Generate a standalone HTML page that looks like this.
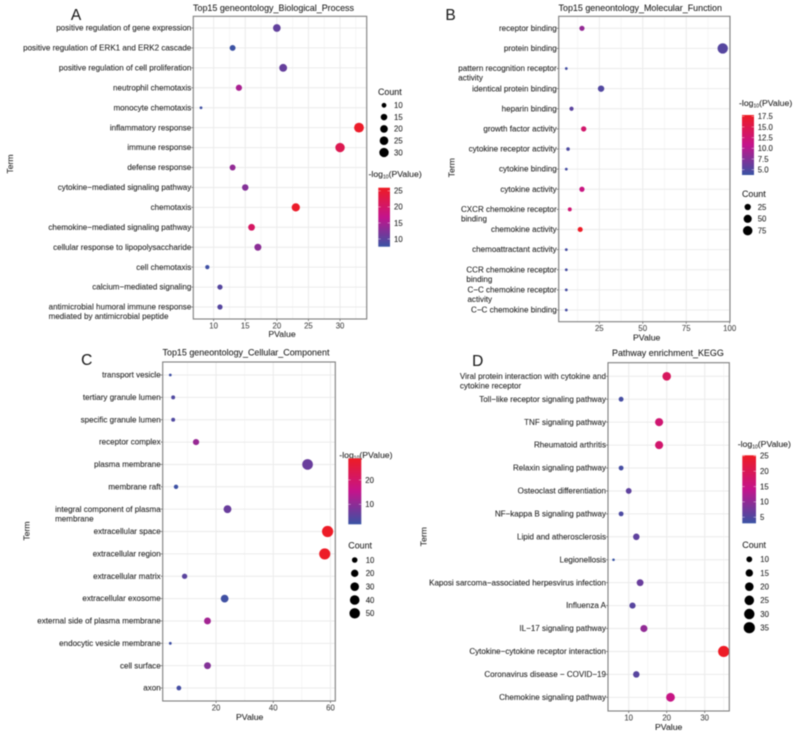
<!DOCTYPE html>
<html>
<head>
<meta charset="utf-8">
<title>Enrichment dot plots</title>
<style>
html,body{margin:0;padding:0;background:#fff;}
#figure{display:block;filter:blur(0.4px);}
text{font-family:"Liberation Sans",Arial,sans-serif;fill:#1f1f1f;stroke:#1f1f1f;stroke-width:0.08px;}
</style>
</head>
<body>
<svg id="figure" width="800" height="737" viewBox="0 0 800 737" xmlns="http://www.w3.org/2000/svg">
<defs id="defs"></defs>
</svg>
<script>
// ---------- Panel A data ----------
const termsA = ["positive regulation of gene expression","positive regulation of ERK1 and ERK2 cascade","positive regulation of cell proliferation","neutrophil chemotaxis","monocyte chemotaxis","inflammatory response","immune response","defense response","cytokine\u2212mediated signaling pathway","chemotaxis","chemokine\u2212mediated signaling pathway","cellular response to lipopolysaccharide","cell chemotaxis","calcium\u2212mediated signaling","antimicrobial humoral immune response\nmediated by antimicrobial peptide"];
const countsA = [20,13,21,14,8,33,30,13,15,23,16,17,9,11,11];
const colorA = [10.3,7.8,10.5,15,8,25.5,22,13.5,12.5,25.5,20.5,13,8,9.5,9.5];
const xTicksA = [10,15,20,25,30];
const xMinorA = [12.5,17.5,22.5,27.5,32.5];
const sizeTicksA = [10,15,20,25,30];
const colorTicksA = [10,15,20,25];

// ---------- Panel B data ----------
const termsB = ["receptor binding","protein binding","pattern recognition receptor\nactivity","identical protein binding","heparin binding","growth factor activity","cytokine receptor activity","cytokine binding","cytokine activity","CXCR chemokine receptor\nbinding","chemokine activity","chemoattractant activity","CCR chemokine receptor\nbinding","C\u2212C chemokine receptor\nactivity","C\u2212C chemokine binding"];
const countsB = [15,96,6,26,9,16,7,6,15,8,14,6,6,6,6];
const colorB = [8.3,5.2,4.3,5,5.5,13,4.8,4.4,11.5,12.5,17.6,4.4,4.4,4.4,4.4];
const xTicksB = [25,50,75,100];
const xMinorB = [12.5,37.5,62.5,87.5];
const sizeTicksB = [25,50,75];
const colorTicksB = [5,7.5,10,12.5,15,17.5];

// ---------- Panel C data ----------
const termsC = ["transport vesicle","tertiary granule lumen","specific granule lumen","receptor complex","plasma membrane","membrane raft","integral component of plasma\nmembrane","extracellular space","extracellular region","extracellular matrix","extracellular exosome","external side of plasma membrane","endocytic vesicle membrane","cell surface","axon"];
const countsC = [4,5,5,13,52,6,24,59,58,9,23,17,4,17,7];
const colorC = [2.5,4,4,11,6.5,2.2,6.5,28.5,28.5,5,2.5,12,2.5,9,3];
const xTicksC = [20,40,60];
const xMinorC = [10,30,50];
const sizeTicksC = [10,20,30,40,50];
const colorTicksC = [10,20];

// ---------- Panel D data ----------
const termsD = ["Viral protein interaction with cytokine and\ncytokine receptor","Toll\u2212like receptor signaling pathway","TNF signaling pathway","Rheumatoid arthritis","Relaxin signaling pathway","Osteoclast differentiation","NF\u2212kappa B signaling pathway","Lipid and atherosclerosis","Legionellosis","Kaposi sarcoma\u2212associated herpesvirus infection","Influenza A","IL\u221217 signaling pathway","Cytokine\u2212cytokine receptor interaction","Coronavirus disease \u2212 COVID\u221219","Chemokine signaling pathway"];
const countsD = [20,8,18,18,8,10,8,12,6,13,11,14,35,12,21];
const colorD = [19,4,17,17.5,4,6,4.5,6,3,6.8,5.5,10,25,5.5,15];
const xTicksD = [10,20,30];
const xMinorD = [15,25,35];
const sizeTicksD = [10,15,20,25,30,35];
const colorTicksD = [5,10,15,20,25];

// ---------- Shared colour stops ----------
const LOW = [57,83,164], MID = [196,20,140], HIGH = [238,28,36];

const svg = document.getElementById('figure');
const defs = document.getElementById('defs');
const NS = 'http://www.w3.org/2000/svg';

function make(tag, attrs, parent, txt){
  const el = document.createElementNS(NS, tag);
  for (const k in attrs) el.setAttribute(k, attrs[k]);
  if (txt !== undefined) el.textContent = txt;
  (parent || svg).appendChild(el);
  return el;
}
function mix(a,b,t){
  return 'rgb(' + a.map((v,i)=>Math.round(v+(b[i]-v)*t)).join(',') + ')';
}
function colorScale(v,lo,hi){
  const t = Math.max(0,Math.min(1,(v-lo)/(hi-lo)));
  return t<0.5 ? mix(LOW,MID,t*2) : mix(MID,HIGH,(t-0.5)*2);
}

function drawPanel(p){
  const g = make('g',{});
  
  

  const xScale = v => p.x0 + (v - p.v0) * p.unit;
  const yScale = i => p.y0 + i * p.step;
  const rScale = c => {
    const cmin = Math.min.apply(null,p.counts), cmax = Math.max.apply(null,p.counts);
    return p.rMin + Math.sqrt((c-cmin)/(cmax-cmin)) * (p.rMax-p.rMin);
  };

  const bg = make('rect',{x:p.left,y:p.top,width:p.right-p.left,height:p.bottom-p.top,fill:'#fff'},g);
  
  

  p.minor.forEach(v=>{
    const l = make('line',{x1:xScale(v),x2:xScale(v),y1:p.top,y2:p.bottom,stroke:'#f0f0f0','stroke-width':0.6},g);
    
    
  });
  p.ticks.forEach(v=>{
    const l = make('line',{x1:xScale(v),x2:xScale(v),y1:p.top,y2:p.bottom,stroke:'#ebebeb','stroke-width':1},g);
    
    
    const tk = make('line',{x1:xScale(v),x2:xScale(v),y1:p.bottom,y2:p.bottom+2,stroke:'#555','stroke-width':0.7},g);
    
    
    const t = make('text',{x:xScale(v),y:p.bottom+9.5,'text-anchor':'middle','font-size':7.8,style:'fill:#444;stroke:#444'},g,String(v));
    
    
  });

  p.terms.forEach((term,i)=>{
    const y = yScale(i);
    const l = make('line',{x1:p.left,x2:p.right,y1:y,y2:y,stroke:'#ebebeb','stroke-width':1},g);
    
    
    const tk = make('line',{x1:p.left-2,x2:p.left,y1:y,y2:y,stroke:'#555','stroke-width':0.7},g);
    
    
    const parts = term.split('\n');
    const t1 = make('text',{x:p.left-2,y:y+2.6,'text-anchor':'end','font-size':p.labelSize},g,parts[0]);
    
    
    if (parts[1]){
      const len = t1.getComputedTextLength();
      const t2 = make('text',{x:p.left-2-len,y:y+2.6+9.6,'text-anchor':'start','font-size':p.labelSize},g,parts[1]);
      
      
    }
  });

  p.counts.forEach((c,i)=>{
    const dot = make('circle',{cx:xScale(c),cy:yScale(i),r:rScale(c),fill:colorScale(p.colors[i],p.cLow,p.cHigh)},g);
    
    
  });

  const border = make('rect',{x:p.left,y:p.top,width:p.right-p.left,height:p.bottom-p.top,fill:'none',stroke:'#7f7f7f','stroke-width':1.1},g);
  
  

  const title = make('text',{x:p.titleX,y:p.titleY,'font-size':8.95},g,p.title);
  
  

  const letter = make('text',{x:p.letterX,y:p.letterY,'text-anchor':'middle','font-size':15.5},g,p.id);
  
  

  const xt = make('text',{x:p.xTitleX,y:p.xTitleY,'text-anchor':'middle','font-size':8.7},g,'PValue');
  
  

  const yt = make('text',{x:0,y:0,'text-anchor':'middle','font-size':8.7,transform:'translate('+p.yTitleX+','+p.yTitleY+') rotate(-90)'},g,'Term');
  
  

  // colour legend
  const grad = make('linearGradient',{id:'grad'+p.id,x1:0,y1:1,x2:0,y2:0},defs);
  make('stop',{offset:'0%','stop-color':mix(LOW,LOW,0)},grad);
  make('stop',{offset:'50%','stop-color':mix(MID,MID,0)},grad);
  make('stop',{offset:'100%','stop-color':mix(HIGH,HIGH,0)},grad);

  const ct = make('text',{x:p.cTitleX,y:p.cTitleY,'font-size':8.7},g);
  
  
  make('tspan',{},ct,'-log');
  make('tspan',{dy:1.5,'font-size':5},ct,'10');
  make('tspan',{dy:-1.5},ct,'(PValue)');

  const bar = make('rect',{x:p.barX,y:p.barTop,width:p.barW,height:p.barBottom-p.barTop,fill:'url(#grad'+p.id+')'},g);
  
  

  const cY = v => p.barBottom - (v-p.cLow)/(p.cHigh-p.cLow)*(p.barBottom-p.barTop);
  p.colorTicks.forEach(v=>{
    const y = cY(v);
    const a = make('line',{x1:p.barX,x2:p.barX+2.4,y1:y,y2:y,stroke:'#fff','stroke-width':0.5,'stroke-opacity':0.8},g);
    
    
    const b = make('line',{x1:p.barX+p.barW-2.4,x2:p.barX+p.barW,y1:y,y2:y,stroke:'#fff','stroke-width':0.5,'stroke-opacity':0.8},g);
    
    
    const lab = Number.isInteger(v) && p.id==='B' ? v.toFixed(1) : String(v);
    const t = make('text',{x:p.barX+p.barW+p.cLabelGap,y:y+2.8,'font-size':7.8},g,lab);
    
    
  });

  // size legend
  const st = make('text',{x:p.sTitleX,y:p.sTitleY,'font-size':8.9},g,'Count');
  
  
  p.sizeTicks.forEach((c,i)=>{
    const y = p.sY0 + i*p.sStep;
    const k = make('circle',{cx:p.sCircleX,cy:y,r:rScale(c),fill:'#000'},g);
    
    
    const t = make('text',{x:p.sLabelX,y:y+2.8,'font-size':7.8},g,String(c));
    
    
  });
}

drawPanel({id:'A',title:'Top15 geneontology_Biological_Process',terms:termsA,counts:countsA,colors:colorA,ticks:xTicksA,minor:xMinorA,sizeTicks:sizeTicksA,colorTicks:colorTicksA,
  left:193.3,right:366.7,top:16.3,bottom:319,v0:8,x0:201,unit:6.32,y0:28,step:19.93,rMin:1.4,rMax:4.9,labelSize:8.05,
  titleX:193,titleY:11,letterX:76,letterY:20,xTitleX:282,xTitleY:337,yTitleX:13,yTitleY:164,
  cTitleX:368.5,cTitleY:177,barX:378.3,barW:11.7,barTop:187.7,barBottom:246.7,cLow:7.6,cHigh:26,cLabelGap:4,
  sTitleX:378,sTitleY:95,sY0:105.3,sStep:11.8,sCircleX:384,sLabelX:394});

drawPanel({id:'B',title:'Top15 geneontology_Molecular_Function',terms:termsB,counts:countsB,colors:colorB,ticks:xTicksB,minor:xMinorB,sizeTicks:sizeTicksB,colorTicks:colorTicksB,
  left:558.7,right:730,top:16.3,bottom:321.7,v0:6,x0:566.3,unit:1.738,y0:28.3,step:20.12,rMin:1.4,rMax:5.2,labelSize:8.05,
  titleX:558.5,titleY:11,letterX:450.5,letterY:20,xTitleX:646.7,xTitleY:340.5,yTitleX:454.5,yTitleY:167.7,
  cTitleX:739,cTitleY:106,barX:742,barW:12,barTop:115,barBottom:175,cLow:3.76,cHigh:17.8,cLabelGap:3.7,
  sTitleX:742,sTitleY:197,sY0:207,sStep:11.85,sCircleX:747.7,sLabelX:757.7});

drawPanel({id:'C',title:'Top15 geneontology_Cellular_Component',terms:termsC,counts:countsC,colors:colorC,ticks:xTicksC,minor:xMinorC,sizeTicks:sizeTicksC,colorTicks:colorTicksC,
  left:162.7,right:335.3,top:362,bottom:701,v0:4,x0:170.3,unit:2.86,y0:375,step:22.36,rMin:1.4,rMax:5.6,labelSize:8.05,
  titleX:162.5,titleY:355.5,letterX:86.7,letterY:365,xTitleX:249.7,xTitleY:720,yTitleX:29.7,yTitleY:531,
  cTitleX:339.3,cTitleY:458,barX:348.3,barW:13,barTop:458.3,barBottom:524.3,cLow:1.8,cHigh:28.9,cLabelGap:4,
  sTitleX:348.3,sTitleY:548.5,sY0:560,sStep:13.33,sCircleX:354.7,sLabelX:365.7});

drawPanel({id:'D',title:'Pathway enrichment_KEGG',terms:termsD,counts:countsD,colors:colorD,ticks:xTicksD,minor:xMinorD,sizeTicks:sizeTicksD,colorTicks:colorTicksD,
  left:608,right:729.3,top:362.7,bottom:711,v0:6,x0:613.5,unit:3.8,y0:376.3,step:22.93,rMin:1.3,rMax:5.6,labelSize:8.05,
  titleX:612,titleY:356,letterX:477.7,letterY:366,xTitleX:668.7,xTitleY:730,yTitleX:426.7,yTitleY:536.7,
  cTitleX:737.7,cTitleY:447,barX:742.3,barW:13.7,barTop:455.3,barBottom:523.3,cLow:3,cHigh:25.2,cLabelGap:4,
  sTitleX:742.3,sTitleY:548,sY0:559.3,sStep:13.68,sCircleX:749.3,sLabelX:760.3});
</script>
</body>
</html>
